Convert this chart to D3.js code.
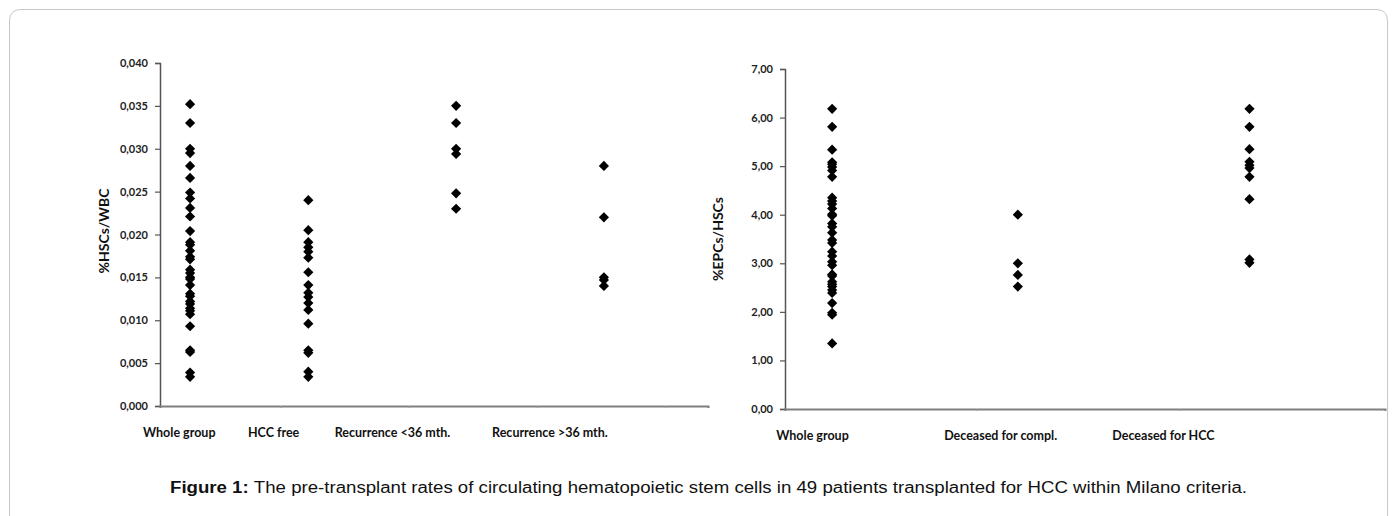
<!DOCTYPE html>
<html>
<head>
<meta charset="utf-8">
<script src="https://cdn.jsdelivr.net/npm/d3@7"></script>
<style>
  body { margin: 0; background: #fff; }
  .tick text { font-family: Lato, 'Open Sans', sans-serif; font-weight: bold; font-size: 11px; fill: #222; }
  .label { font-family: Lato, 'Open Sans', sans-serif; font-weight: bold; font-size: 12.5px; fill: #111; }
  .title { font-family: Lato, 'Open Sans', sans-serif; font-weight: bold; font-size: 14px; fill: #111; }
  .caption { font-family: 'Liberation Sans', Arial, sans-serif; font-size: 16px; fill: #111; }
</style>
</head>
<body>
<svg width="1397" height="516"></svg>
<script>
// **** data ****

// left panel: %HSCs/WBC
var hscGroups = ['Whole group', 'HCC free', 'Recurrence <36 mth.', 'Recurrence >36 mth.'];
var hscWhole = [0.0352, 0.0330, 0.0300, 0.0295, 0.0280, 0.0266, 0.0249, 0.0242, 0.0231, 0.0221,
    0.0204, 0.0191, 0.0188, 0.0181, 0.0174, 0.0171, 0.0159, 0.0155, 0.0150, 0.0148, 0.0141,
    0.0131, 0.0128, 0.0122, 0.0119, 0.0114, 0.0111, 0.0107, 0.0093, 0.0065, 0.0063, 0.0039, 0.0034];
var hscFree = [0.0240, 0.0205, 0.0191, 0.0185, 0.0180, 0.0173, 0.0156, 0.0141, 0.0132, 0.0127,
    0.0120, 0.0112, 0.0096, 0.0065, 0.0062, 0.0040, 0.0034];
var hscRecEarly = [0.0350, 0.0330, 0.0300, 0.0294, 0.0248, 0.0230];
var hscRecLate = [0.0280, 0.0220, 0.0150, 0.0147, 0.0140];
var hscTicks = [0, 0.005, 0.010, 0.015, 0.020, 0.025, 0.030, 0.035, 0.040];

// right panel: %EPCs/HSCs
var epcGroups = ['Whole group', 'Deceased for compl.', 'Deceased for HCC'];
var epcWhole = [6.18, 5.81, 5.34, 5.08, 5.04, 4.98, 4.91, 4.78, 4.35, 4.28, 4.22, 4.13, 4.01, 3.98,
    3.82, 3.75, 3.63, 3.48, 3.42, 3.24, 3.15, 3.03, 2.96, 2.77, 2.74, 2.62, 2.57, 2.52, 2.45,
    2.39, 2.18, 1.98, 1.94, 1.35];
var epcCompl = [4.00, 3.00, 2.76, 2.52];
var epcHcc = [6.18, 5.81, 5.35, 5.09, 5.02, 4.96, 4.78, 4.32, 3.08, 3.01];
var epcTicks = [0, 1, 2, 3, 4, 5, 6, 7];

var caption = 'The pre-transplant rates of circulating hematopoietic stem cells in 49 patients transplanted for HCC within Milano criteria.';

// **** layout ****

var svg = d3.select('svg');
var comma = d3.formatLocale({ decimal: ',', thousands: '.', grouping: [3], currency: ['', ''] });

// frame round the figure
svg.append('path')
    .attr('d', 'M9.5,530 L9.5,21 Q9.5,9.5 21,9.5 L1376,9.5 Q1387.5,9.5 1387.5,21 L1387.5,530')
    .attr('fill', 'none')
    .attr('stroke', '#c8c8c8')
    .attr('stroke-width', 1);

function drawPanel(opt) {
    var g = svg.append('g');

    var y = d3.scaleLinear().domain(opt.yDomain).range([opt.bottom, opt.top]);
    var x = d3.scaleLinear().domain(opt.xDomain).range([opt.left, opt.right]);

    // y axis
    var yAxis = g.append('g')
        .attr('transform', `translate(${opt.left},0)`)
        .call(d3.axisLeft(y).tickValues(opt.yTicks).tickFormat(comma.format(opt.fmt)).tickSize(5).tickPadding(7));
    yAxis.select('.domain').attr('stroke', '#555').attr('stroke-width', 1.5);
    yAxis.selectAll('.tick line').attr('stroke', '#555').attr('stroke-width', 1.2);

    // x axis (only small tick marks, no labels)
    var xAxis = g.append('g')
        .attr('transform', `translate(0,${opt.bottom})`)
        .call(d3.axisBottom(x).tickValues(opt.xTicks).tickSize(2).tickFormat(''));
    xAxis.select('.domain').attr('stroke', '#7f7f7f').attr('stroke-width', 2);
    xAxis.selectAll('.tick line').attr('stroke', '#999');

    // points
    opt.series.forEach(function(vals, i) {
        g.selectAll(null)
            .data(vals)
            .enter()
            .append('path')
            .attr('d', d3.symbol(d3.symbolSquare, 52))
            .attr('fill', '#000')
            .attr('transform', d => `translate(${x(opt.xPos[i])},${y(d)}) rotate(45)`);
    });

    // group labels
    g.selectAll('.label.cat')
        .data(opt.groups)
        .enter()
        .append('text')
        .attr('class', 'label cat')
        .attr('text-anchor', 'middle')
        .attr('x', (d, i) => x(opt.labelPos[i]))
        .attr('y', opt.bottom + 31)
        .text(d => d);

    // y title
    g.append('text')
        .attr('class', 'title')
        .attr('text-anchor', 'middle')
        .attr('transform', `translate(${opt.titleX},${opt.titleY}) rotate(-90)`)
        .text(opt.title);
}

drawPanel({
    left: 160, right: 708, top: 63, bottom: 406,
    yDomain: [0, 0.040], yTicks: hscTicks, fmt: '.3f',
    xDomain: [0.066, 4.33], xTicks: [1, 2, 3, 4],
    series: [hscWhole, hscFree, hscRecEarly, hscRecLate],
    xPos: [0.30, 1.22, 2.37, 3.52],
    labelPos: [0.216, 0.95, 1.875, 3.10],
    groups: hscGroups,
    title: '%HSCs/WBC', titleX: 109, titleY: 231
});

drawPanel({
    left: 785, right: 1385, top: 69, bottom: 409,
    yDomain: [0, 7], yTicks: epcTicks, fmt: '.2f',
    xDomain: [0.054, 3.02], xTicks: [1, 2, 3],
    series: [epcWhole, epcCompl, epcHcc],
    xPos: [0.287, 1.205, 2.35],
    labelPos: [0.19, 1.12, 1.925],
    groups: epcGroups,
    title: '%EPCs/HSCs', titleX: 723, titleY: 239
});

// caption, stretched to the width it has in the figure
var cap = svg.append('text')
    .attr('class', 'caption')
    .attr('text-anchor', 'middle')
    .attr('x', 708.5)
    .attr('y', 493)
    .attr('textLength', 1077)
    .attr('lengthAdjust', 'spacingAndGlyphs');
cap.append('tspan').attr('font-weight', 'bold').text('Figure 1: ');
cap.append('tspan').text(caption);
</script>
</body>
</html>
